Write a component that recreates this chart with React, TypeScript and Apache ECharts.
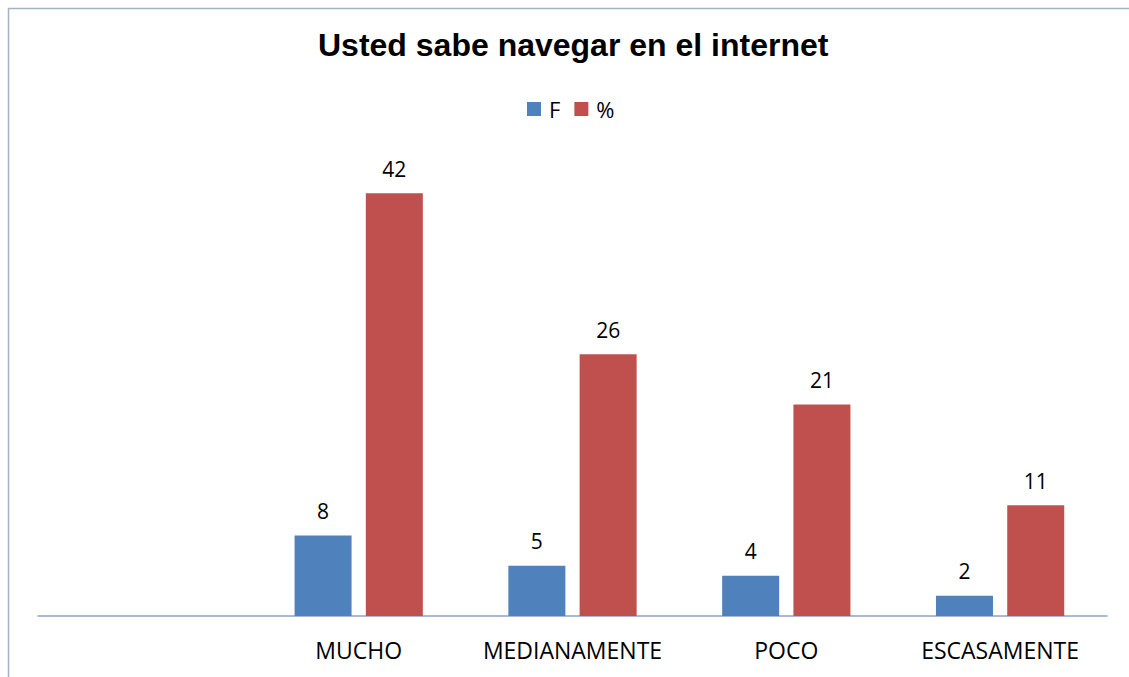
import React, { useEffect, useRef } from "react";
import * as echarts from "echarts";

const categories = ["", "MUCHO", "MEDIANAMENTE", "POCO", "ESCASAMENTE"];
const seriesF = [null, 8, 5, 4, 2];
const seriesPct = [null, 42, 26, 21, 11];
const titleText = "Usted sabe navegar en el internet";

export default function App() {
  const ref = useRef<HTMLDivElement>(null);
  useEffect(() => {
    if (!ref.current) return;
    const chart = echarts.init(ref.current, undefined, { renderer: "svg" });
    const labelStyle = {
      show: true,
      position: "top" as const,
      distance: 14,
      color: "#000",
      fontSize: 21,
      fontFamily: "Open Sans",
    };
    chart.setOption({
      animation: false,
      backgroundColor: "#fff",
      title: {
        text: titleText,
        left: 313,
        top: 24,
        textStyle: { fontFamily: "Liberation Sans", fontWeight: "bold", fontSize: 32, color: "#000" },
      },
      legend: {
        top: 93,
        left: 522,
        itemWidth: 14,
        itemHeight: 14,
        itemGap: 14,
        icon: "rect",
        textStyle: { fontFamily: "Open Sans", fontSize: 22, color: "#000", padding: [0, 0, 0, 3] },
        data: ["F", "%"],
      },
      graphic: [
        {
          type: "rect",
          shape: { x: 8.5, y: 8.5, width: 1200, height: 800 },
          style: { fill: "none", stroke: "#A3B1CC", lineWidth: 1.5 },
          silent: true,
        },
      ],
      grid: { left: 38, right: 22, top: 163, bottom: 61 },
      xAxis: {
        type: "category",
        data: categories,
        axisLine: { lineStyle: { color: "#8EA3C7", width: 1.5 } },
        axisTick: { show: false },
        axisLabel: { color: "#000", fontSize: 23, fontFamily: "Open Sans", margin: 22, interval: 0 },
      },
      yAxis: {
        type: "value",
        min: 0,
        max: 45,
        show: false,
        splitLine: { show: false },
      },
      series: [
        {
          name: "F",
          type: "bar",
          data: seriesF,
          barGap: "25%",
          barCategoryGap: "40%",
          itemStyle: { color: "#4F81BD" },
          label: labelStyle,
        },
        {
          name: "%",
          type: "bar",
          data: seriesPct,
          itemStyle: { color: "#C0504D" },
          label: labelStyle,
        },
      ],
    });
    return () => chart.dispose();
  }, []);
  return <div ref={ref} style={{ position: "absolute", left: 0, top: 0, width: 1129, height: 677 }} />;
}
